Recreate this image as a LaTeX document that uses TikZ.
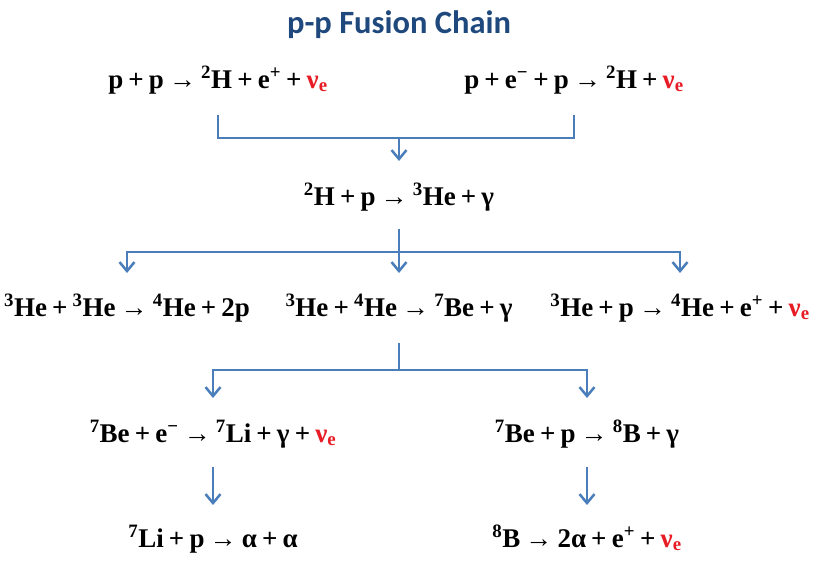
\documentclass[tikz,border=0pt]{standalone}
\usepackage{fontspec}
\setmainfont{Liberation Serif}
\newfontfamily\titlefont{Carlito}
\usepackage{tikz}
\usetikzlibrary{arrows.meta}
\definecolor{titleblue}{RGB}{31,73,125}
\definecolor{linkblue}{RGB}{74,126,187}
\definecolor{nured}{RGB}{232,28,36}
\newcommand{\nue}{\textcolor{nured}{ν\textsubscript{e}}}
\newcommand{\iso}[2]{\textsuperscript{#1}#2}

\begin{document}
\begin{tikzpicture}[x=1pt, y=-1pt,
	eq/.style={anchor=base, inner sep=0, font=\fontsize{27}{32}\selectfont\bfseries,
		execute at begin node={\spaceskip=0.19em\relax}},
	link/.style={draw=linkblue, line width=2.5pt},
	flow/.style={link, -{Straight Barb[length=9pt, width=15pt]}}]
\useasboundingbox (0,0) rectangle (815,568);
\node[anchor=base, text=titleblue, font=\titlefont\bfseries\fontsize{32.5}{38}\selectfont] (title) at(399,33) {p-p Fusion Chain};
\node[eq] (r1a) at(218,88) {p + p → \iso{2}{H} + e\textsuperscript{+} + \nue};
\node[eq] (r1b) at(574,88) {p + e\textsuperscript{−} + p → \iso{2}{H} + \nue};
\node[eq] (r2) at(399,205) {\iso{2}{H} + p → \iso{3}{He} + γ};
\node[eq] (r3a) at(127,316) {\iso{3}{He} + \iso{3}{He} → \iso{4}{He} + 2p};
\node[eq] (r3b) at(399,316) {\iso{3}{He} + \iso{4}{He} → \iso{7}{Be} + γ};
\node[eq] (r3c) at(680,316) {\iso{3}{He} + p → \iso{4}{He} + e\textsuperscript{+} + \nue};
\node[eq] (r4a) at(213,442) {\iso{7}{Be} + e\textsuperscript{−} → \iso{7}{Li} + γ + \nue};
\node[eq] (r4b) at(587,442) {\iso{7}{Be} + p → \iso{8}{B} + γ};
\node[eq] (r5a) at(213,547) {\iso{7}{Li} + p → α + α};
\node[eq] (r5b) at(587,547) {\iso{8}{B} → 2α + e\textsuperscript{+} + \nue};
\coordinate (j1) at(399,138);
\coordinate (j2) at(399,252);
\coordinate (j3) at(399,370);
\draw[link] ([yshift=-27pt]r1a.base) |- (j1) -| ([yshift=-27pt]r1b.base);
\draw[flow] (j1) -- ([yshift=44pt]r2.base);
\draw[link] ([yshift=-24pt]r2.base) -- (j2);
\foreach \n in {r3a,r3b,r3c} {
	\draw[flow] (j2) -| ([yshift=43pt]\n.base);
};
\draw[link] ([yshift=-27pt]r3b.base) -- (j3);
\foreach \a/\b in {r4a/r5a,r4b/r5b} {
	\draw[flow] (j3) -| ([yshift=44pt]\a.base);
	\draw[flow] ([yshift=-25pt]\a.base) -- ([yshift=42pt]\b.base);
};
\end{tikzpicture}
\end{document}
